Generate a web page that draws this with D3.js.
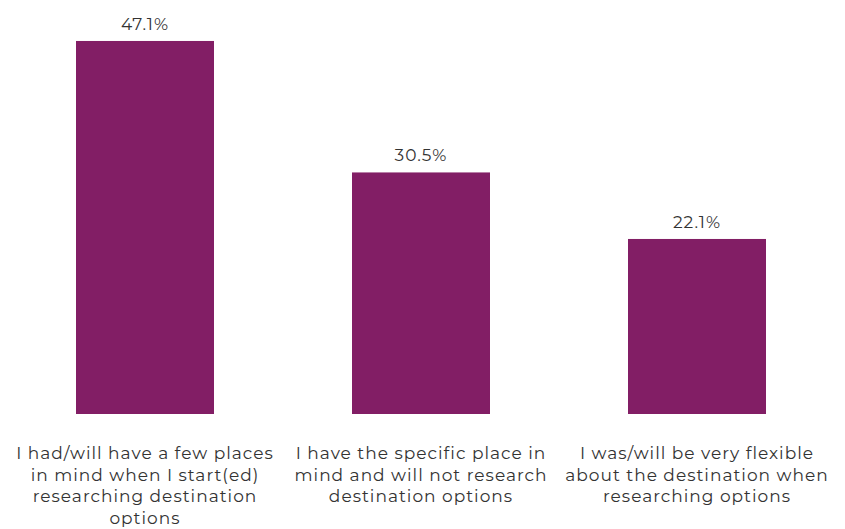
<!DOCTYPE html>
<html><head><meta charset="utf-8">
<script src="https://cdn.jsdelivr.net/npm/d3@7"></script>
<style>body{margin:0;background:#fff}</style>
</head><body>
<svg id="c" width="845" height="529"></svg>
<script>
const categories = [
  "I had/will have a few places\nin mind when I start(ed)\nresearching destination\noptions",
  "I have the specific place in\nmind and will not research\ndestination options",
  "I was/will be very flexible\nabout the destination when\nresearching options"
];
const values = [47.1, 30.5, 22.1];
const valueLabels = ["47.1%", "30.5%", "22.1%"];

const svg = d3.select("#c");
const font = "Montserrat, 'Noto Sans', 'DejaVu Sans', sans-serif";
const x = d3.scaleBand().domain(categories).range([7, 835]).paddingInner(0.5).paddingOuter(0.25);
const y = d3.scaleLinear().domain([0, 50]).range([414, 18]);

svg.selectAll("rect.bar").data(values).join("rect")
  .attr("class","bar")
  .attr("x",(d,i)=>x(categories[i]))
  .attr("width",x.bandwidth())
  .attr("y",d=>y(d))
  .attr("height",d=>y(0)-y(d))
  .attr("fill","#821e65");

svg.selectAll("text.val").data(values).join("text")
  .attr("class","val")
  .attr("x",(d,i)=>x(categories[i])+x.bandwidth()/2)
  .attr("y",d=>y(d)-11)
  .attr("text-anchor","middle")
  .attr("font-family",font)
  .attr("font-size",17)
  .attr("letter-spacing","1px")
  .attr("fill","#333")
  .text((d,i)=>valueLabels[i]);

const lab = svg.selectAll("text.cat").data(categories).join("text")
  .attr("class","cat")
  .attr("text-anchor","middle")
  .attr("font-family",font)
  .attr("font-size",17)
  .attr("letter-spacing","1px")
  .attr("fill","#333");
lab.each(function(d){
  const t = d3.select(this);
  const cx = x(d)+x.bandwidth()/2;
  d.split("\n").forEach((line,j)=>{
    t.append("tspan").attr("x",cx).attr("y",459+j*21.7).text(line);
  });
});
</script>
</body></html>
